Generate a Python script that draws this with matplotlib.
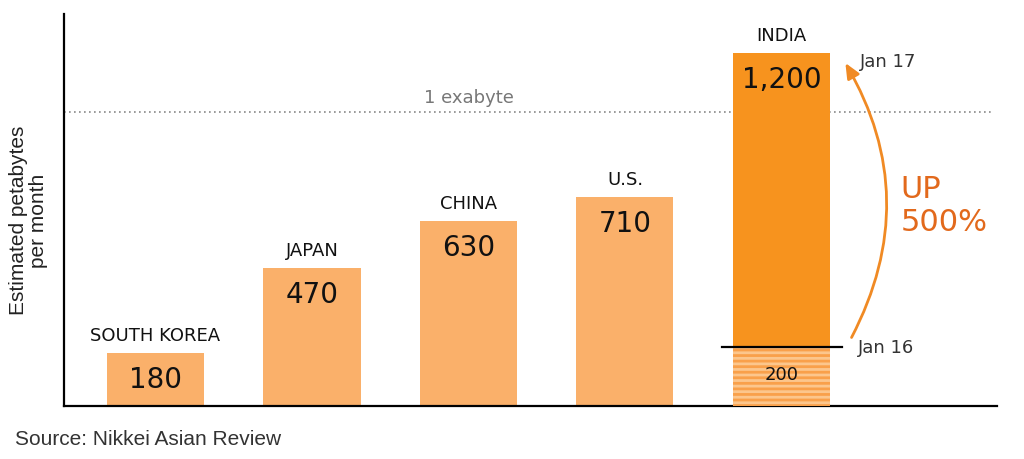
import matplotlib.pyplot as plt
from matplotlib.patches import FancyArrowPatch

countries = ["SOUTH KOREA", "JAPAN", "CHINA", "U.S.", "INDIA"]
values = [180, 470, 630, 710, 1200]
value_labels = ["180", "470", "630", "710", "1,200"]
india_jan16 = 200
exabyte = 1000

light = "#FAB06A"
dark = "#F7931E"

plt.rcParams['hatch.linewidth'] = 2.0
fig = plt.figure(figsize=(10.24, 4.6), dpi=100)
ax = fig.add_axes([0.0625, 0.115, 0.911, 0.852])

x = list(range(len(countries)))
colors = [light] * 4 + [dark]
ax.bar(x, values, width=0.62, color=colors, zorder=2)
# lower hatched part of India (Jan 16)
ax.bar(x[-1], india_jan16, width=0.62, color="#F9A04A", edgecolor="#FCC68C",
       hatch="---", linewidth=0, zorder=3)
ax.plot([x[-1] - 0.38, x[-1] + 0.39], [india_jan16, india_jan16], color="black", lw=1.6, zorder=4)

for xi, v, name, lab in zip(x, values, countries, value_labels):
    ax.text(xi, v + 62, name, ha="center", va="center", fontsize=13, color="#111111",
            family="DejaVu Sans")
    ax.text(xi, v - 88, lab, ha="center", va="center", fontsize=20, color="#111111",
            family="DejaVu Sans")
ax.text(x[-1], india_jan16 / 2 + 10, "200", ha="center", va="center", fontsize=13, color="#111111")

# 1 exabyte line
ax.axhline(exabyte, color="#888888", ls=(0, (1, 2)), lw=1.2, xmax=0.995, zorder=1)
ax.text(2.0, exabyte + 50, "1 exabyte", ha="center", va="center", fontsize=13, color="#777777")

ax.text(4.5, 1173, "Jan 17", ha="left", va="center", fontsize=13, color="#333333")
ax.text(4.49, india_jan16, "Jan 16", ha="left", va="center", fontsize=13, color="#333333")

arrow = FancyArrowPatch((4.44, 225), (4.4, 1175), connectionstyle="arc3,rad=0.28",
                        arrowstyle="-|>,head_length=9,head_width=4", color="#F08A24",
                        lw=2, zorder=5)
ax.add_patch(arrow)
ax.text(4.76, 684, "UP\n500%", ha="left", va="center", fontsize=22, color="#E2691C",
        linespacing=1.15)

ax.set_xlim(-0.585, 5.377)
ax.set_ylim(0, 1333)
ax.set_xticks([])
ax.set_yticks([])
for s in ["top", "right"]:
    ax.spines[s].set_visible(False)
for s in ["left", "bottom"]:
    ax.spines[s].set_linewidth(1.6)

fig.text(0.028, 0.52, "Estimated petabytes\nper month", rotation=90, ha="center", va="center",
         fontsize=15, family="Liberation Sans", color="#222222", linespacing=1.05)
fig.text(0.015, 0.045, "Source: Nikkei Asian Review", ha="left", va="center",
         fontsize=15, family="Liberation Sans", color="#333333")

fig.savefig("out.png", dpi=100)
